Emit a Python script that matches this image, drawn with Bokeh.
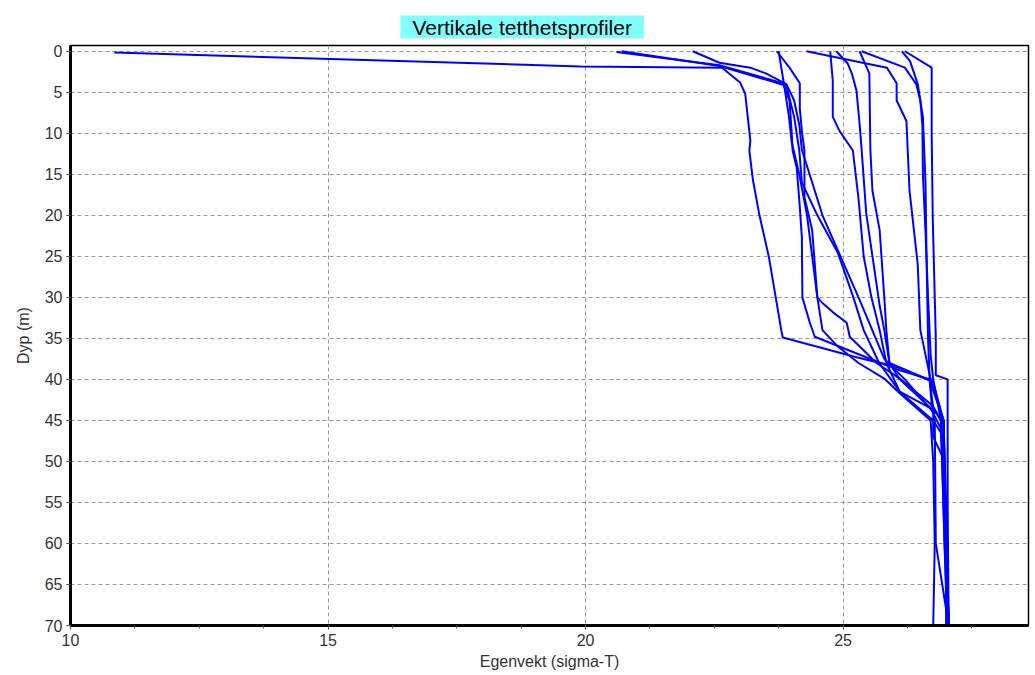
from bokeh.plotting import figure
from bokeh.models import Range1d, FixedTicker, Title
from bokeh.embed import file_html
from bokeh.resources import INLINE

# ---- data: sigma-T (x) and depth in metres (y) for each profile ----
sigma_p01 = [10.85, 19.9, 22.65, 23.0, 23.1, 23.2, 23.18, 23.25, 23.37, 23.56, 23.8, 23.83, 25.26, 26.04, 26.68, 26.78, 26.8, 27.05]
depth_p01 = [0.15, 1.85, 2.0, 3.8, 5.2, 10.9, 12.1, 15.7, 19.8, 25.1, 34.0, 34.9, 37.3, 38.5, 40.1, 45.0, 60.0, 70.0]

sigma_p02 = [20.6, 22.6, 23.83, 23.96, 24.0, 24.02, 24.1, 24.16, 24.2, 24.21, 24.35, 24.45, 25.57, 26.1, 26.74, 26.95, 27.0, 27.05]
depth_p02 = [0.1, 1.7, 3.9, 6.0, 9.7, 12.1, 14.2, 19.0, 22.7, 30.0, 33.0, 34.8, 37.6, 38.9, 40.1, 45.0, 60.0, 70.0]

sigma_p03 = [20.7, 22.6, 23.9, 24.05, 24.15, 24.2, 24.5, 24.9, 25.2, 25.4, 25.7, 26.1, 26.75, 26.95, 27.0, 27.05]
depth_p03 = [0.0, 1.8, 4.2, 8.0, 12.1, 16.0, 20.0, 24.6, 30.0, 34.0, 38.0, 41.5, 43.7, 45.0, 55.0, 70.0]

sigma_p04 = [22.08, 22.6, 23.2, 23.5, 23.9, 24.05, 24.15, 24.2, 24.6, 24.95, 25.3, 25.5, 25.8, 26.2, 26.75, 26.75, 26.93, 27.0, 27.05]
depth_p04 = [0.0, 1.4, 2.0, 2.7, 4.0, 6.0, 9.0, 12.0, 20.0, 25.0, 30.0, 33.0, 37.5, 40.0, 44.0, 47.0, 49.4, 60.0, 70.0]

sigma_p05 = [23.71, 23.96, 24.16, 24.16, 24.2, 24.25, 24.25, 24.4, 24.5, 24.6, 24.9, 25.3, 25.8, 26.1, 26.7, 26.75, 26.78, 26.75]
depth_p05 = [0.0, 2.0, 3.9, 7.0, 9.7, 12.1, 17.8, 21.8, 30.0, 34.0, 36.0, 38.0, 39.9, 41.7, 45.0, 50.0, 60.0, 70.0]

sigma_p06 = [23.75, 23.8, 23.85, 23.95, 24.0, 24.15, 24.3, 24.4, 24.5, 24.6, 24.8, 25.07, 25.13, 25.65, 26.1, 26.7, 26.9, 26.97, 27.03]
depth_p06 = [0.0, 2.0, 3.9, 8.0, 11.0, 15.0, 20.0, 25.0, 30.0, 30.7, 31.8, 33.1, 34.8, 38.0, 39.9, 43.0, 45.0, 60.0, 70.0]

sigma_p07 = [24.29, 25.85, 26.04, 26.04, 26.23, 26.29, 26.45, 26.5, 26.7, 26.95, 27.0, 27.05]
depth_p07 = [0.0, 2.0, 3.9, 6.0, 8.5, 17.0, 26.0, 34.0, 40.0, 45.0, 60.0, 70.0]

sigma_p08 = [24.75, 24.8, 24.8, 24.93, 25.19, 25.3, 25.4, 25.55, 25.71, 25.84, 26.1, 26.75, 26.95, 27.0, 27.0]
depth_p08 = [0.0, 3.6, 8.0, 9.7, 12.1, 18.0, 25.0, 30.0, 34.0, 38.0, 41.5, 45.0, 47.0, 60.0, 70.0]

sigma_p09 = [24.87, 25.09, 25.17, 25.26, 25.32, 25.36, 25.45, 25.71, 25.8, 25.9, 26.1, 26.7, 26.9, 26.97, 27.03]
depth_p09 = [0.0, 1.5, 2.7, 4.8, 8.8, 12.0, 19.8, 31.0, 34.0, 38.0, 40.0, 43.5, 46.0, 55.0, 70.0]

sigma_p10 = [25.32, 25.51, 25.53, 25.57, 25.71, 25.8, 25.84, 25.9, 26.68, 26.95, 27.0, 27.05]
depth_p10 = [0.0, 2.7, 12.0, 17.0, 21.8, 30.0, 34.0, 38.0, 40.1, 45.0, 60.0, 70.0]

sigma_p11 = [25.36, 26.2, 26.42, 26.5, 26.54, 26.55, 26.6, 26.65, 26.7, 26.75, 26.9, 26.97, 27.02]
depth_p11 = [0.0, 2.0, 4.0, 6.0, 9.0, 15.0, 22.0, 30.0, 37.0, 40.0, 45.0, 60.0, 70.0]

sigma_p12 = [26.14, 26.3, 26.45, 26.55, 26.6, 26.62, 26.65, 26.68, 26.72, 26.95, 27.0, 27.05]
depth_p12 = [0.0, 1.2, 4.0, 8.0, 16.0, 25.0, 35.0, 40.0, 43.0, 45.5, 60.0, 70.0]

sigma_p13 = [26.2, 26.72, 26.72, 26.74, 26.78, 26.8, 26.8, 27.03, 27.03, 27.03, 27.05]
depth_p13 = [0.0, 2.0, 10.0, 20.0, 30.0, 35.0, 39.5, 40.0, 45.0, 55.0, 70.0]

x_major_ticks = [10, 15, 20, 25]
x_minor_ticks = [10 + 1.25 * i for i in range(16)]
y_ticks = list(range(0, 71, 5))

title_text = "Vertikale tetthetsprofiler"
x_label = "Egenvekt (sigma-T)"
y_label = "Dyp (m)"

profiles = [
    (sigma_p01, depth_p01), (sigma_p02, depth_p02), (sigma_p03, depth_p03),
    (sigma_p04, depth_p04), (sigma_p05, depth_p05), (sigma_p06, depth_p06),
    (sigma_p07, depth_p07), (sigma_p08, depth_p08), (sigma_p09, depth_p09),
    (sigma_p10, depth_p10), (sigma_p11, depth_p11), (sigma_p12, depth_p12),
    (sigma_p13, depth_p13),
]

FONT = "Liberation Sans"

p = figure(width=1032, height=672,
           x_range=Range1d(10, 28.6), y_range=Range1d(70, -0.7),
           output_backend="svg", toolbar_location=None,
           min_border_left=70, min_border_right=4,
           min_border_top=45, min_border_bottom=46)
p.title = None
t = Title(text=title_text, align="left", offset=330,
          text_font=FONT, text_font_size="21px", text_font_style="normal",
          text_color="black", background_fill_color="#80FFFF",
          padding=dict(x=12, y=0), standoff=14)
p.add_layout(t, "above")

for xs, ys in profiles:
    p.line(xs, ys, line_color="#0000FF", line_width=2)

p.background_fill_color = "white"
p.border_fill_color = "white"
p.outline_line_color = "black"
p.outline_line_width = 1.5

p.xaxis.ticker = FixedTicker(ticks=x_major_ticks, minor_ticks=x_minor_ticks)
p.yaxis.ticker = FixedTicker(ticks=y_ticks, minor_ticks=[])

for ax in (p.xaxis, p.yaxis):
    ax.axis_line_color = "black"
    ax.axis_line_width = 3
    ax.major_tick_line_color = "#555555"
    ax.major_tick_out = 4
    ax.major_tick_in = 0
    ax.minor_tick_line_color = "#555555"
    ax.minor_tick_out = 3
    ax.minor_tick_in = 0
    ax.major_label_text_font = FONT
    ax.major_label_text_font_size = "16px"
    ax.major_label_text_color = "#333333"
    ax.axis_label_text_font = FONT
    ax.axis_label_text_font_size = "16px"
    ax.axis_label_text_font_style = "normal"
    ax.axis_label_text_color = "#333333"

p.xaxis.axis_label = x_label
p.yaxis.axis_label = y_label
p.xaxis.major_label_standoff = 4
p.xaxis.axis_label_standoff = 4
p.yaxis.major_label_standoff = 4
p.yaxis.axis_label_standoff = 10

for g in (p.xgrid, p.ygrid):
    g.grid_line_color = "#999999"
    g.grid_line_dash = "4 3"
    g.grid_line_width = 1

open("out.html", "w").write(file_html(p, INLINE))
